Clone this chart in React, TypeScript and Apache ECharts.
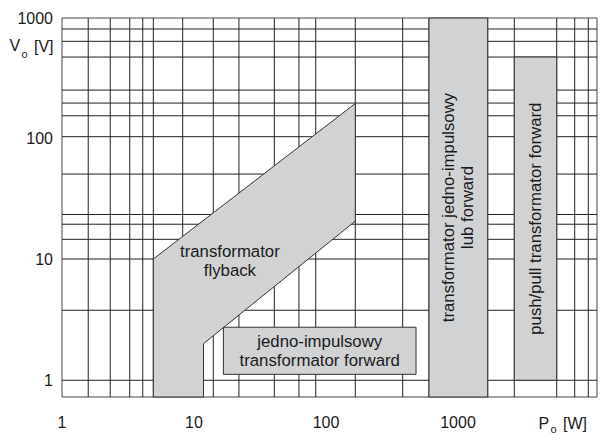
import React, { useEffect, useRef } from 'react';
import * as echarts from 'echarts';

// Axis extents (log scales)
const X_MIN = 1;
const X_MAX = 11300;
const Y_MIN = 0.727;
const Y_MAX = 1000;

// Tick labels shown on the axes
const xTickLabels = [1, 10, 100, 1000];
const yTickLabels = [1, 10, 100, 1000];

// Grid lines (data units)
const xGridLines = [1.58, 2.32, 3.26, 4.09, 4.92, 8.21, 14.0, 21.9, 40.6, 62.4, 83.6, 166.7, 381, 603, 1679, 2670, 5595, 7660, 9710];
const yGridLines = [811, 641, 475, 253, 197.5, 155, 104, 51, 23.6, 19.6, 14.7, 10.1, 3.8, 1];

// Regions: Po [W], Vo [V]
const flybackOutline = [
  [4.92, Y_MIN],
  [4.92, 10.1],
  [166.7, 196],
  [166.7, 20.8],
  [11.8, 2.01],
  [11.8, Y_MIN],
];
const flybackLabelAt = [18.7, 9.7];
// [Po min, Po max, Vo min, Vo max]
const singleForwardBox = [16.7, 481, 1.12, 2.75];
const forwardRange = [603, 1679, Y_MIN, Y_MAX];
const pushPullRange = [2670, 5595, 1, 475];

const regionNames = [
  'transformator\nflyback',
  'jedno-impulsowy\ntransformator forward',
  'transformator jedno-impulsowy\nlub forward',
  'push/pull transformator forward',
];

const FONT = "'Liberation Sans', Arial, Helvetica, sans-serif";
const TEXT = '#1a1a1a';
const FILL = '#d1d2d4';
const EDGE = '#333333';

function rectOutline(r: number[]) {
  return [
    [r[0], r[2]],
    [r[0], r[3]],
    [r[1], r[3]],
    [r[1], r[2]],
  ];
}
function logCenter(r: number[]) {
  return [Math.sqrt(r[0] * r[1]), Math.sqrt(r[2] * r[3])];
}

export default function App() {
  const ref = useRef<HTMLDivElement>(null);
  useEffect(() => {
    document.body.style.margin = '0';
    const chart = echarts.init(ref.current!, null, { renderer: 'svg' });

    const shapes = [
      { pts: flybackOutline, label: flybackLabelAt, name: regionNames[0], rot: 0, lh: 18.5 },
      { pts: rectOutline(singleForwardBox), label: logCenter(singleForwardBox), name: regionNames[1], rot: 0, lh: 18.5 },
      { pts: rectOutline(forwardRange), label: logCenter(forwardRange), name: regionNames[2], rot: Math.PI / 2, lh: 19 },
      { pts: rectOutline(pushPullRange), label: logCenter(pushPullRange), name: regionNames[3], rot: Math.PI / 2, lh: 19 },
    ];

    const fmt = (ticks: number[]) => (v: number) => {
      const m = ticks.find((t) => Math.abs(Math.log10(t) - Math.log10(v)) < 1e-6);
      return m !== undefined ? String(m) : '';
    };

    const gridData = [
      ...xGridLines.map((v) => [v, Y_MIN, 0]),
      ...yGridLines.map((v) => [X_MIN, v, 1]),
    ];

    const option: any = {
      animation: false,
      grid: {
        left: 62,
        right: 4,
        top: 18,
        bottom: 37,
        show: true,
        borderColor: '#444',
        borderWidth: 1,
        backgroundColor: 'transparent',
      },
      xAxis: {
        type: 'log',
        logBase: 10,
        min: X_MIN,
        max: X_MAX,
        axisLine: { show: false },
        axisTick: { show: false },
        splitLine: { show: false },
        axisLabel: {
          formatter: fmt(xTickLabels),
          fontSize: 16,
          fontFamily: FONT,
          color: TEXT,
          margin: 17,
        },
      },
      yAxis: {
        type: 'log',
        logBase: 10,
        min: Y_MIN,
        max: Y_MAX,
        axisLine: { show: false },
        axisTick: { show: false },
        splitLine: { show: false },
        axisLabel: {
          formatter: fmt(yTickLabels),
          fontSize: 16,
          fontFamily: FONT,
          color: TEXT,
          margin: 9,
        },
      },
      series: [
        {
          type: 'custom',
          name: 'grid',
          z: 1,
          clip: false,
          silent: true,
          data: gridData,
          renderItem: (params: any, api: any) => {
            const kind = api.value(2);
            let a, b;
            if (kind === 0) {
              const v = api.value(0);
              a = api.coord([v, Y_MIN]);
              b = api.coord([v, Y_MAX]);
            } else {
              const v = api.value(1);
              a = api.coord([X_MIN, v]);
              b = api.coord([X_MAX, v]);
            }
            return {
              type: 'line',
              shape: { x1: a[0], y1: a[1], x2: b[0], y2: b[1] },
              style: { stroke: '#222', lineWidth: 1 },
            };
          },
        },
        {
          type: 'custom',
          name: 'regions',
          z: 3,
          clip: false,
          silent: true,
          data: shapes.map((s) => s.pts[0]),
          renderItem: (params: any, api: any) => {
            const s = shapes[params.dataIndex];
            const pts = s.pts.map((p) => api.coord(p));
            const c = api.coord(s.label);
            return {
              type: 'group',
              children: [
                {
                  type: 'polygon',
                  shape: { points: pts },
                  style: { fill: FILL, stroke: EDGE, lineWidth: 1 },
                },
                {
                  type: 'text',
                  x: c[0],
                  y: c[1],
                  rotation: s.rot,
                  style: {
                    text: s.name,
                    fill: TEXT,
                    fontSize: 16.8,
                    fontFamily: FONT,
                    align: 'center',
                    verticalAlign: 'middle',
                    lineHeight: s.lh,
                  },
                },
              ],
            };
          },
        },
      ],
      graphic: [
        { type: 'text', x: 9.5, y: 45.5, style: { text: 'V', fontSize: 16, fontFamily: FONT, fill: TEXT, align: 'left', verticalAlign: 'middle' } },
        { type: 'text', x: 21.5, y: 53.5, style: { text: 'o', fontSize: 11, fontFamily: FONT, fill: TEXT, align: 'left', verticalAlign: 'middle' } },
        { type: 'text', x: 53.5, y: 46, style: { text: '[V]', fontSize: 16, fontFamily: FONT, fill: TEXT, align: 'right', verticalAlign: 'middle' } },
        { type: 'text', x: 538.5, y: 423.5, style: { text: 'P', fontSize: 16, fontFamily: FONT, fill: TEXT, align: 'left', verticalAlign: 'middle' } },
        { type: 'text', x: 550.5, y: 429, style: { text: 'o', fontSize: 11, fontFamily: FONT, fill: TEXT, align: 'left', verticalAlign: 'middle' } },
        { type: 'text', x: 587, y: 423.5, style: { text: '[W]', fontSize: 16, fontFamily: FONT, fill: TEXT, align: 'right', verticalAlign: 'middle' } },
      ],
    };

    chart.setOption(option);
    return () => chart.dispose();
  }, []);
  return <div ref={ref} style={{ width: 601, height: 434, position: 'absolute', left: 0, top: 0 }} />;
}
